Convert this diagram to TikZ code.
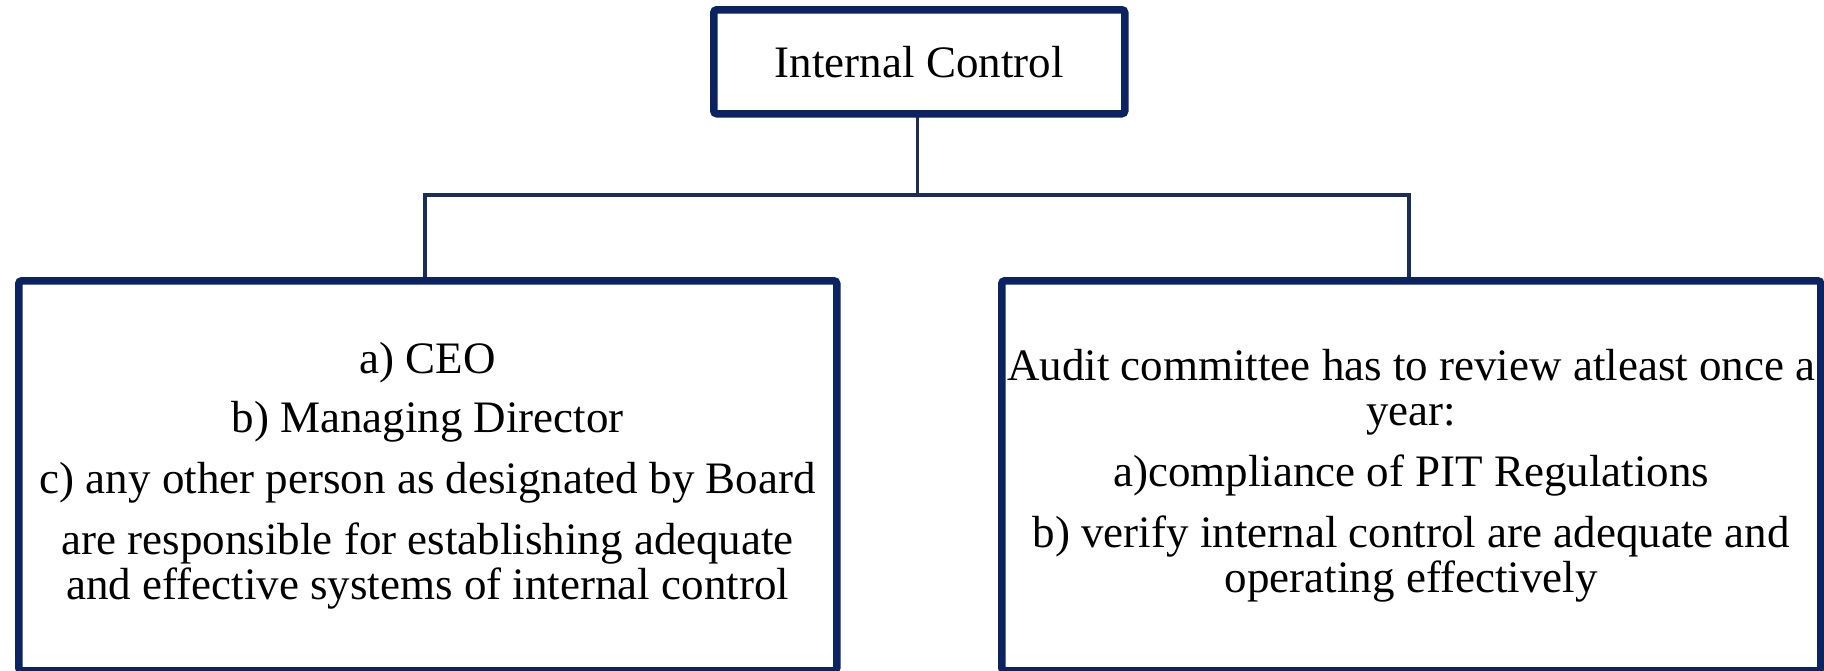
\documentclass[tikz,border=0pt]{standalone}
\usepackage{fontspec}
\setmainfont{Liberation Serif}
\definecolor{navy}{HTML}{0B2362}
\definecolor{linknavy}{HTML}{1B2D57}
\begin{document}
\begin{tikzpicture}[x=1pt,y=-1pt,
  panel/.style={draw=navy, line width=7.5pt, rounded corners=3pt, fill=white,
    inner sep=0pt, anchor=north west, align=center,
    font=\fontsize{45}{45}\selectfont},
  link/.style={draw=linknavy, line width=3.5pt, line join=miter}]
\useasboundingbox (0,0) rectangle (1824,670);

% connectors (drawn first so the boxes sit on top)
\coordinate (hub) at (917.5,195);
\coordinate (topfoot) at (917.5,110);
\coordinate (lefthead) at (425,277);
\coordinate (righthead) at (1409,277);
\draw[link] (topfoot) -- (hub);
\draw[link] (lefthead) |- (hub) -| (righthead);

% boxes
\node[panel, minimum width=411pt, minimum height=104pt] (top) at (710,6)
  {Internal Control};
\node[panel, minimum width=818pt, minimum height=390pt] (left) at (15,277)
  {a) CEO\\[14pt]
   b) Managing Director\\[16pt]
   c) any other person as designated by Board\\[16pt]
   are responsible for establishing adequate\\
   and effective systems of internal control};
\node[panel, minimum width=819pt, minimum height=390pt] (right) at (998,277)
  {Audit committee has to review atleast once a\\
   year:\\[16pt]
   a)compliance of PIT Regulations\\[16pt]
   b) verify internal control are adequate and\\
   operating effectively};
\end{tikzpicture}
\end{document}
